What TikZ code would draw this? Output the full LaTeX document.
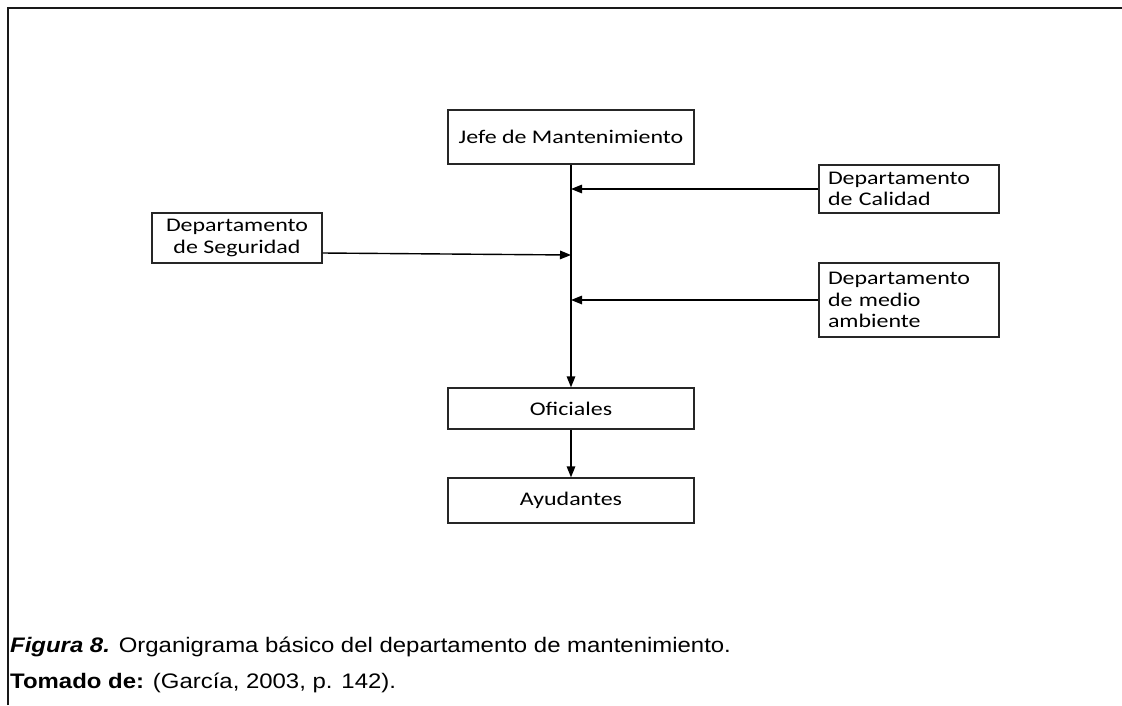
\documentclass[tikz,border=0pt]{standalone}
\usepackage{fontspec}
\usetikzlibrary{arrows.meta,calc}
\newfontfamily\boxfont{Carlito}[FakeStretch=1.24]
\newfontfamily\capfont{Liberation Sans}[FakeStretch=1.14]
\begin{document}
\begin{tikzpicture}[x=1pt,y=-1pt,
  orgbox/.style={draw=black!85,line width=1.3pt,rectangle,inner sep=0pt,
    font=\boxfont\fontsize{19.3}{21.5}\selectfont,text=black},
  flow/.style={line width=1.4pt,-{Triangle[length=11pt,width=8.5pt]}},
  caption/.style={anchor=base west,inner sep=0pt,
    font=\capfont\fontsize{21}{25}\selectfont}]
  \useasboundingbox (0,0) rectangle (1122,705);
  % frame around the figure
  \draw[line width=2pt,black!90] (8,705) -- (8,8.3) -- (1122,8.3);

  % boxes
  \node[orgbox,minimum width=246pt,minimum height=54pt] (jefe) at (571,137)
    {Jefe de Mantenimiento};
  \node[orgbox,minimum width=180pt,minimum height=48pt,text width=162pt,align=left]
    (cal) at (909,189) {Departamento\\de Calidad};
  \node[orgbox,minimum width=170pt,minimum height=50pt,align=center]
    (seg) at (237,238) {Departamento\\de Seguridad};
  \node[orgbox,minimum width=180pt,minimum height=74pt,text width=162pt,align=left]
    (med) at (909,300) {Departamento\\de medio\\ambiente};
  \node[orgbox,minimum width=246pt,minimum height=41pt] (ofi) at (571,408.5)
    {Oficiales};
  \node[orgbox,minimum width=246pt,minimum height=45pt] (ayu) at (571,500.5)
    {Ayudantes};

  % connectors
  \coordinate (segout) at ([yshift=-15pt]seg.east);
  \coordinate (segin) at (571,255);
  \draw[flow] (jefe.south) -- (ofi.north);
  \draw[flow] (ofi.south) -- (ayu.north);
  \draw[flow] (cal.west) -- (cal.west -| jefe.south);
  \draw[flow] (med.west) -- (med.west -| jefe.south);
  \draw[flow] (segout) -- (segin);

  % caption
  \node[caption] (fig) at (10,652)
    {{\bfseries\itshape Figura 8.} Organigrama básico del departamento de mantenimiento.};
  \node[caption] (src) at (10,688)
    {{\bfseries Tomado de:} (García, 2003, p. 142).};
\end{tikzpicture}
\end{document}
